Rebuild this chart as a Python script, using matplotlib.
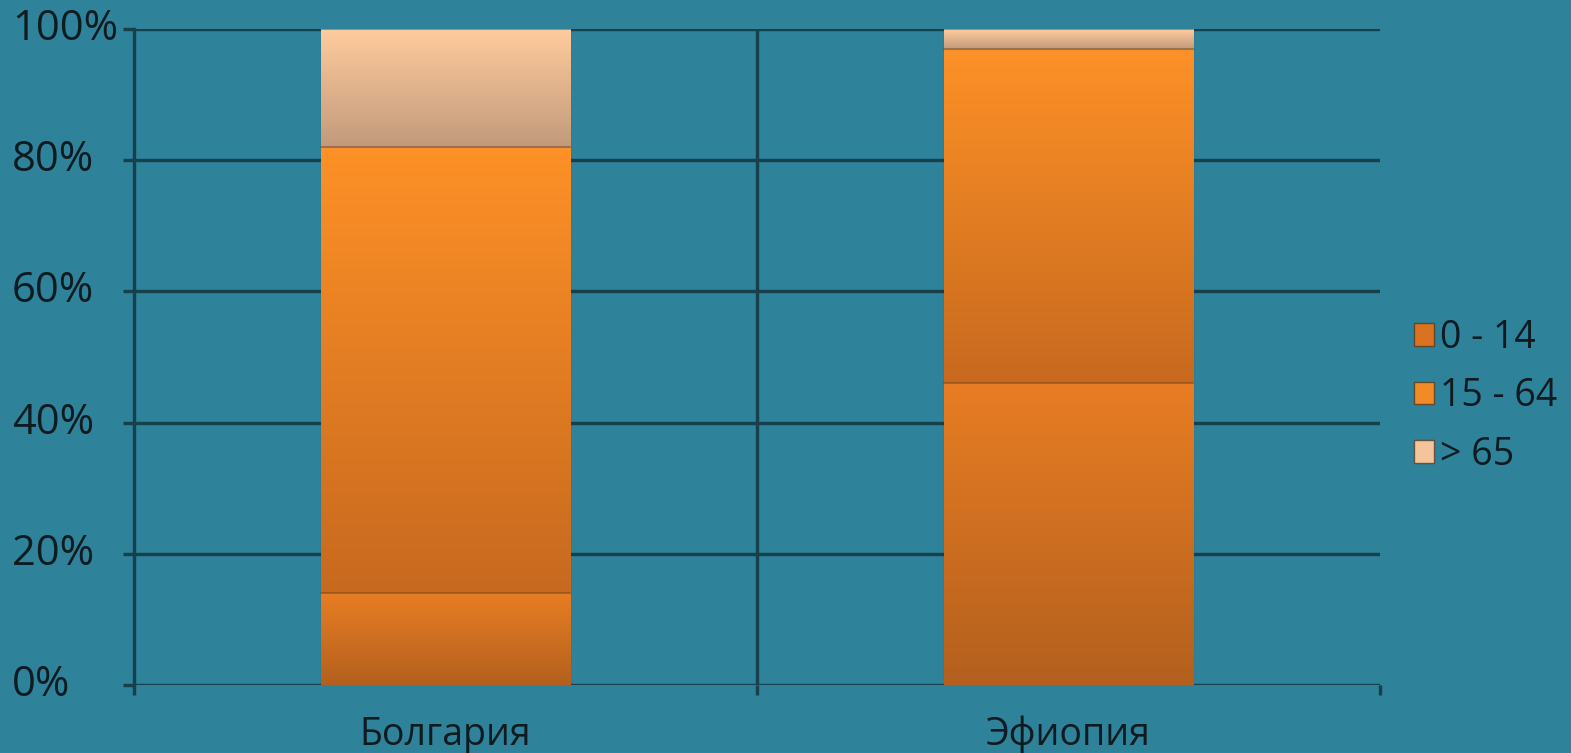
import numpy as np
import matplotlib.pyplot as plt
from matplotlib.colors import LinearSegmentedColormap
from matplotlib.transforms import blended_transform_factory

# data (shares of population, %)
countries = ['Болгария', 'Эфиопия']
groups = ['0 - 14', '15 - 64', '> 65']
age_0_14 = [14, 46]
age_15_64 = [68, 51]
age_65 = [18, 3]
yticks = [0, 20, 40, 60, 80, 100]

# look
bg = '#2E8299'
grid_c = '#15404C'
text_c = '#0F1B20'
# (top colour, bottom colour) of each segment gradient
grads = [('#E87D24', '#B3601E'),
         ('#FE9127', '#C7691F'),
         ('#FFCC9E', '#C29A7B')]
legend_c = ['#D9731F', '#F28A25', '#F5C49C']

fig = plt.figure(figsize=(15.71, 7.53), dpi=100, facecolor=bg)
ax = fig.add_axes([134 / 1571, 1 - 685 / 753, 1246 / 1571, 656 / 753])
ax.set_facecolor(bg)

x = np.arange(len(countries))
width = 0.4
series = [age_0_14, age_15_64, age_65]
bottom = np.zeros(len(countries))
containers = []
for vals, lc in zip(series, legend_c):
    bc = ax.bar(x, vals, width, bottom=bottom, color=lc,
                edgecolor=(0.35, 0.2, 0.1, 0.35), linewidth=1, zorder=3)
    containers.append(bc)
    bottom = bottom + np.array(vals)

# vertical gradient on every segment
for bc, (top, bot) in zip(containers, grads):
    cmap = LinearSegmentedColormap.from_list('g', [bot, top])
    for p in bc.patches:
        x0, y0 = p.get_x(), p.get_y()
        w, h = p.get_width(), p.get_height()
        grad = np.linspace(0, 1, 256).reshape(-1, 1)
        im = ax.imshow(grad, extent=(x0, x0 + w, y0, y0 + h), origin='lower',
                       aspect='auto', cmap=cmap, zorder=3.5, interpolation='bicubic')
        im.set_clip_path(p)
    # thin darker line on the top edge of each segment
    for p in bc.patches:
        ax.plot([p.get_x(), p.get_x() + p.get_width()],
                [p.get_y() + p.get_height()] * 2,
                color=(0.45, 0.28, 0.12, 0.6), lw=1.2, zorder=4)

ax.set_xlim(-0.5, 1.5)
ax.set_ylim(0, 100)

# grid
for yv in yticks:
    ax.axhline(yv, color=grid_c, lw=2.4, zorder=1)
ax.axvline(0.5, color=grid_c, lw=2.4, zorder=1)

for s in ['top', 'right', 'bottom']:
    ax.spines[s].set_visible(False)
ax.spines['left'].set_color(grid_c)
ax.spines['left'].set_linewidth(2.4)

ax.set_yticks(yticks)
ax.set_yticklabels([])
ax.tick_params(axis='y', length=8, width=2.4, color=grid_c)

# x axis: ticks at category boundaries, labels at centres
ax.set_xticks([-0.5, 0.5, 1.5])
ax.set_xticklabels([])
ax.set_xticks(x, minor=True)
ax.set_xticklabels(countries, minor=True, fontsize=27, color=text_c,
                   family='Open Sans')
ax.tick_params(axis='x', which='major', length=7, width=2.4, color=grid_c)
ax.tick_params(axis='x', which='minor', length=0, pad=22)

# y labels, left aligned like the original
tr = blended_transform_factory(fig.transFigure, ax.transData)
for yv in yticks:
    ax.text(12 / 1571, yv, f'{yv}%', transform=tr, ha='left', va='center',
            fontsize=30, color=text_c, family='Open Sans')

leg = ax.legend(containers, groups, loc='center left',
                bbox_to_anchor=(1.015, 0.44), frameon=False, fontsize=27,
                handlelength=0.55, handleheight=0.55, handletextpad=0.15,
                labelspacing=0.55, borderaxespad=0)
for t in leg.get_texts():
    t.set_color(text_c)
    t.set_family('Open Sans')
for h in leg.legend_handles:
    h.set_edgecolor((0.3, 0.2, 0.1, 0.7))

fig.savefig('out.png', dpi=100, facecolor=bg)
